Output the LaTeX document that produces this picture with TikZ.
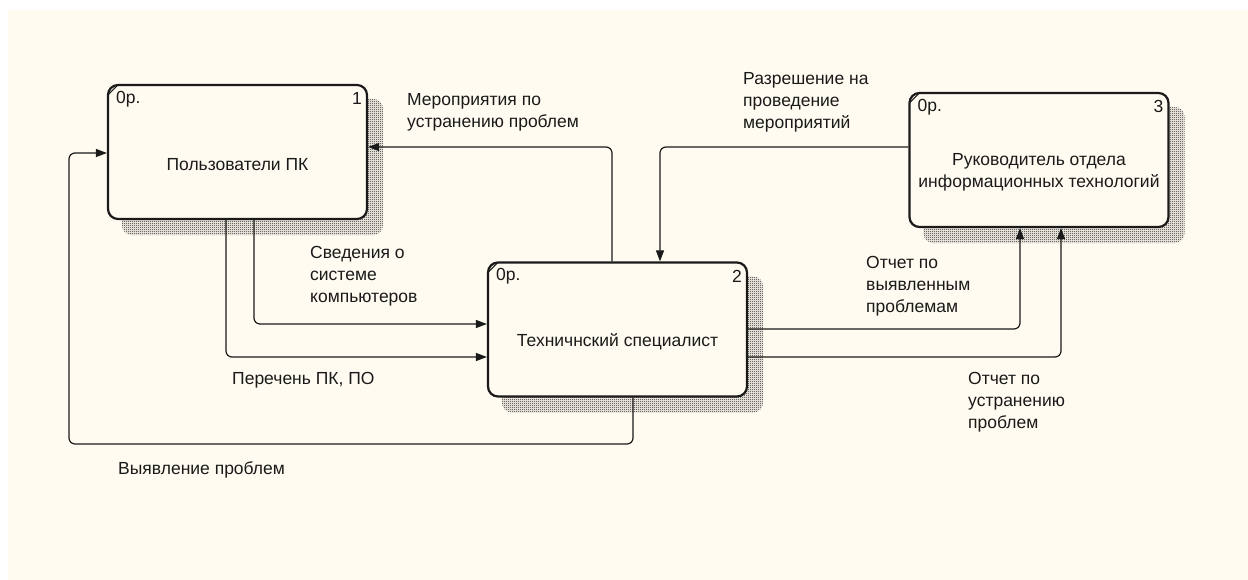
\documentclass[tikz,border=0pt]{standalone}
\usepackage{fontspec}
\setmainfont{Liberation Sans}
\usetikzlibrary{arrows.meta,patterns}
\definecolor{paper}{HTML}{FFFBF0}
\definecolor{ink}{HTML}{1A1A1A}
\pgfdeclarelayer{bg}
\pgfdeclarelayer{shade}
\pgfsetlayers{bg,shade,main}
\pgfdeclarepatternformonly{finechecker}{\pgfpointorigin}{\pgfqpoint{2pt}{2pt}}{\pgfqpoint{2pt}{2pt}}{%
    \pgfpathrectangle{\pgfpointorigin}{\pgfqpoint{1pt}{1pt}}%
    \pgfpathrectangle{\pgfqpoint{1pt}{1pt}}{\pgfqpoint{1pt}{1pt}}%
    \pgfusepath{fill}}
\begin{document}
\begin{tikzpicture}[x=1pt, y=-1pt,
    every node/.style={font=\fontsize{17.5}{22}\selectfont, text=ink},
    process/.style={draw=ink, line width=2.2pt, rounded corners=10pt, fill=paper,
        minimum width=259pt, minimum height=134pt, inner sep=0pt},
    flow/.style={-{Triangle[length=11pt,width=8pt]}, draw=ink, line width=1.2pt, rounded corners=6pt},
    lbl/.style={anchor=north west, align=left, inner sep=0pt}
]
\useasboundingbox (0,0) rectangle (1248,580);
\begin{pgfonlayer}{bg}
\fill[paper] (8,10) rectangle (1248,580);
\end{pgfonlayer}

% processes
\node[process] (users) at (237.5,152) {};
\node[process] (tech) at (617.5,329.5) {};
\node[process] (head) at (1039,160) {};

\begin{pgfonlayer}{shade}
\foreach \b in {users,tech,head}
    \fill[pattern=finechecker, pattern color=black!90, rounded corners=10pt]
        ([shift={(15,15)}]\b.north west) rectangle ([shift={(15,15)}]\b.south east);
\end{pgfonlayer}

\foreach \b/\n in {users/1,tech/2,head/3} {
    \draw[ink, line width=1pt] ([shift={(1,11)}]\b.north west) -- ([shift={(11,1)}]\b.north west);
    \node[anchor=west, inner sep=0pt] at ([shift={(9,15)}]\b.north west) {0р.};
    \node[anchor=east, inner sep=0pt] at ([shift={(-6,15)}]\b.north east) {\n};
}

\node (users-txt) at ([yshift=-13pt]users.center) {Пользователи ПК};
\node (tech-txt) at ([yshift=-12pt]tech.center) {Техничнский специалист};
\node[align=center] (head-txt) at ([yshift=-12pt]head.center) {Руководитель отдела\\информационных технологий};

% flows
\draw[flow] (tech.north -| 612,0) |- (users.east |- 0,147);
\draw[flow] (head.west |- 0,147) -| (tech.north -| 660,0);
\draw[flow] (users.south -| 254,0) |- (tech.west |- 0,324);
\draw[flow] (users.south -| 226,0) |- (tech.west |- 0,357);
\draw[flow] (tech.south -| 633,0) -- (633,444) -| (69,153) -- (users.west |- 0,153);
\draw[flow] (tech.east |- 0,329) -| (head.south -| 1020,0);
\draw[flow] (tech.east |- 0,357) -| (head.south -| 1061,0);

% labels
\node[lbl] (l-measures) at (407,93) {Мероприятия по\\устранению проблем};
\node[lbl] (l-permit) at (743,72) {Разрешение на\\проведение\\мероприятий};
\node[lbl] (l-info) at (310,246) {Сведения о\\системе\\компьютеров};
\node[lbl] (l-list) at (232,372) {Перечень ПК, ПО};
\node[lbl] (l-found) at (866,256) {Отчет по\\выявленным\\проблемам};
\node[lbl] (l-fixed) at (968,372) {Отчет по\\устранению\\проблем};
\node[lbl] (l-detect) at (118,461) {Выявление проблем};
\end{tikzpicture}
\end{document}
